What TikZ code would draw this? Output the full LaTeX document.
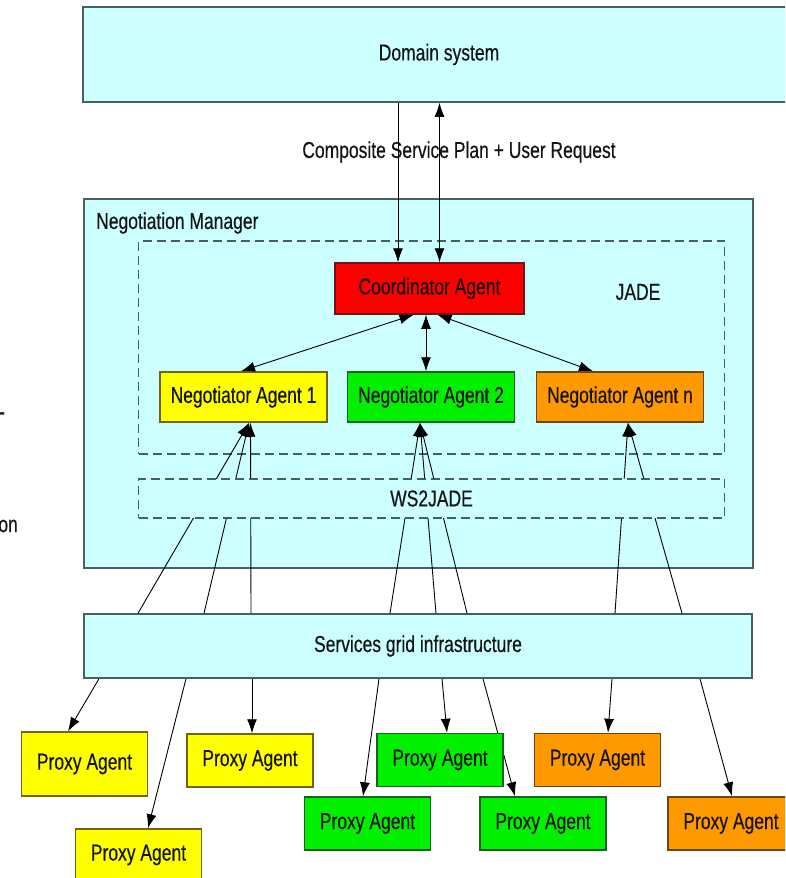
\documentclass[tikz,border=0pt]{standalone}
\usepackage{fontspec}
\setmainfont{Liberation Sans}[FakeStretch=0.76,FakeBold=0.4]
\usetikzlibrary{arrows.meta,calc}
\pgfdeclarelayer{bg}
\pgfsetlayers{bg,main}
\definecolor{cyanbg}{RGB}{204,255,255}
\definecolor{bord}{RGB}{75,95,95}
\definecolor{dashc}{RGB}{70,95,95}
\definecolor{yel}{RGB}{255,255,0}
\definecolor{yelb}{RGB}{110,100,20}
\definecolor{grn}{RGB}{0,240,0}
\definecolor{grnb}{RGB}{20,100,30}
\definecolor{org}{RGB}{255,153,0}
\definecolor{orgb}{RGB}{110,70,20}
\definecolor{rd}{RGB}{255,0,0}
\definecolor{rdb}{RGB}{110,20,20}
\definecolor{txt}{RGB}{20,20,20}
\begin{document}
\begin{tikzpicture}[x=1pt,y=-1pt,
  font=\fontsize{23}{26}\selectfont, text=txt,
  base/.style={draw, line width=1.5pt, inner sep=0pt, align=center},
  cyanbox/.style={base, fill=cyanbg, draw=bord},
  agent/.style={base, minimum height=50pt, minimum width=167pt},
  proxy/.style={base, minimum width=126pt, minimum height=53pt},
  yb/.style={fill=yel, draw=yelb},
  gb/.style={fill=grn, draw=grnb},
  ob/.style={fill=org, draw=orgb},
  dashbox/.style={draw=dashc, line width=1.5pt, dash pattern=on 9pt off 5pt, inner sep=0pt},
  arr/.style={draw=black, line width=0.9pt, -{Latex[length=14pt,width=10pt]}},
  darr/.style={draw=black, line width=0.9pt, {Latex[length=14pt,width=10pt]}-{Latex[length=14pt,width=10pt]}}
]
\useasboundingbox (0,0) rectangle (785,878);
\clip (0,0) rectangle (785,878);

% stray cut-off texts at left edge
\node[anchor=east, inner sep=0pt] (s1) at (5,416) {-};
\node[anchor=east, inner sep=0pt] (s2) at (18,526) {on};

% domain system
\node[cyanbox, minimum width=712pt, minimum height=95pt] (dom) at (439,54.5) {Domain system};
\node (csp) at (459,152) {Composite Service Plan + User Request};

% negotiation manager
\node[cyanbox, minimum width=669pt, minimum height=369pt] (nm) at (418.5,383.5) {};
\node[anchor=west, inner sep=0pt] (nml) at (96,223) {Negotiation Manager};
\node[dashbox, minimum width=586pt, minimum height=213pt] (jade) at (431.5,347.5) {};
\node (jadel) at (638,292) {JADE};

\node[base, fill=rd, draw=rdb, minimum width=189pt, minimum height=51pt] (coord) at (429.5,288.5) {Coordinator Agent};
\node[agent, yb] (na1) at (243.5,397) {Negotiator Agent 1};
\node[agent, gb] (na2) at (431,397) {Negotiator Agent 2};
\node[agent, ob] (nan) at (620,397) {Negotiator Agent n};

% domain <-> coordinator
\coordinate (c1) at ([xshift=-31.5pt]coord.north);
\coordinate (c2) at ([xshift=10pt]coord.north);
\draw[arr] (dom.south -| c1) -- (c1);
\draw[darr] (dom.south -| c2) -- (c2);

% coordinator <-> negotiators
\draw[darr] ([xshift=-16pt]coord.south) -- ([xshift=-2.5pt]na1.north);
\draw[darr] ([xshift=-3.5pt]coord.south) -- ([xshift=-5pt]na2.north);
\draw[darr] ([xshift=8pt]coord.south) -- ([xshift=-27pt]nan.north);

% services grid
\node[cyanbox, minimum width=668pt, minimum height=64pt] (svc) at (418,646) {Services grid infrastructure};

% services -> negotiators (through WS2JADE)
\draw[arr] ([xshift=-280pt]svc.north) -- ([xshift=5.5pt]na1.south);
\draw[arr] ([xshift=-214pt]svc.north) -- ([xshift=5.5pt]na1.south);
\draw[arr] ([xshift=-167pt]svc.north) -- ([xshift=7pt]na1.south);
\draw[arr] ([xshift=-28pt]svc.north) -- ([xshift=-11pt]na2.south);
\draw[arr] ([xshift=18pt]svc.north) -- ([xshift=-11pt]na2.south);
\draw[arr] ([xshift=49pt]svc.north) -- ([xshift=-11pt]na2.south);
\draw[arr] ([xshift=197pt]svc.north) -- ([xshift=8pt]nan.south);
\draw[arr] ([xshift=264pt]svc.north) -- ([xshift=8pt]nan.south);

% WS2JADE (covers the middle of the lines)
\node[dashbox, fill=cyanbg, minimum width=586pt, minimum height=39pt] (ws) at (431.5,498.5) {WS2JADE};

% proxy agents
\node[proxy, yb, minimum height=64pt] (p1) at (84.5,764) {Proxy Agent};
\node[proxy, yb, minimum height=52pt] (p2) at (138.5,855) {Proxy Agent};
\node[proxy, yb] (p3) at (250,760.5) {Proxy Agent};
\node[proxy, gb] (p4) at (367.5,823.5) {Proxy Agent};
\node[proxy, gb] (p5) at (440,760) {Proxy Agent};
\node[proxy, gb] (p6) at (543,823.5) {Proxy Agent};
\node[proxy, ob] (p7) at (597.5,760) {Proxy Agent};
\node[proxy, ob] (p8) at (731,823.5) {Proxy Agent};

\begin{pgfonlayer}{bg}
\draw[arr] ([xshift=-319pt]svc.south) -- ([xshift=-16.5pt]p1.north);
\draw[arr] ([xshift=-232pt]svc.south) -- ([xshift=9.5pt]p2.north);
\draw[arr] ([xshift=-166pt]svc.south) -- ([xshift=2pt]p3.north);
\draw[arr] ([xshift=-39pt]svc.south) -- ([xshift=-4.5pt]p4.north);
\draw[arr] ([xshift=24pt]svc.south) -- ([xshift=7pt]p5.north);
\draw[arr] ([xshift=65pt]svc.south) -- ([xshift=-28pt]p6.north);
\draw[arr] ([xshift=194pt]svc.south) -- ([xshift=10.5pt]p7.north);
\draw[arr] ([xshift=282pt]svc.south) -- ([xshift=1pt]p8.north);
\end{pgfonlayer}
\end{tikzpicture}
\end{document}
